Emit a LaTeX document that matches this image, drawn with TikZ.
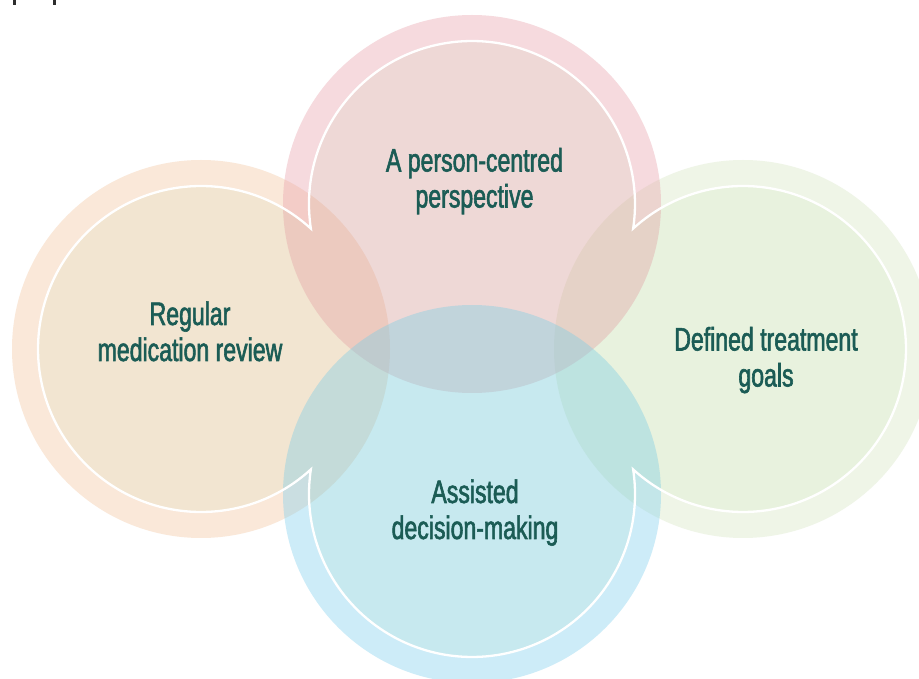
\documentclass[tikz,border=0pt]{standalone}
\usepackage{fontspec}
\setmainfont{Liberation Sans}[FakeStretch=0.71, FakeBold=1.8]
\definecolor{pinkc}{RGB}{233,163,173}
\definecolor{orangec}{RGB}{243,198,160}
\definecolor{greenc}{RGB}{215,230,195}
\definecolor{bluec}{RGB}{130,208,238}
\definecolor{tintc}{RGB}{47,164,0}
\definecolor{labelc}{RGB}{27,92,85}
\definecolor{markc}{RGB}{45,45,45}
\tikzset{
  disk/.style={fill opacity=0.4},
  tint/.style={fill=tintc, fill opacity=0.035},
  whiteline/.style={draw=white, line width=2.3pt, line join=miter, miter limit=20},
  lbl/.style={inner sep=0pt, text=labelc, anchor=base, font=\fontsize{32.5}{36}\selectfont},
}
\begin{document}
\begin{tikzpicture}[x=1pt,y=1pt]
\useasboundingbox (0,0) rectangle (919,678);
\fill[white] (0,0) rectangle (919,678);
% circle centres
\coordinate (T) at (472,474);
\coordinate (B) at (472,184);
\coordinate (L) at (201,329);
\coordinate (R) at (743,329);
% cusp point (outer intersection of the top and left inner circles)
\coordinate (TL) at (310.87,449.40);
% outer disks
\fill[disk, orangec] (L) circle[radius=189];
\fill[disk, greenc] (R) circle[radius=189];
\fill[disk, pinkc] (T) circle[radius=189];
\fill[disk, bluec] (B) circle[radius=189];
% inner union tint and white outline
\path[tint] (TL) arc[start angle=188.68, end angle=-8.68, radius=163]
  arc[start angle=132.38, end angle=-132.38, radius=163]
  arc[start angle=8.68, end angle=-188.68, radius=163]
  arc[start angle=-47.62, end angle=-312.38, radius=163] -- cycle;
\draw[whiteline] (TL) arc[start angle=188.68, end angle=-8.68, radius=163]
  arc[start angle=132.38, end angle=-132.38, radius=163]
  arc[start angle=8.68, end angle=-188.68, radius=163]
  arc[start angle=-47.62, end angle=-312.38, radius=163] -- cycle;
% labels
\node[lbl] (t1a) at (474.5,506.5) {A person-centred};
\node[lbl] (t1b) at (474.5,470.5) {perspective};
\node[lbl] (t2a) at (190,353) {Regular};
\node[lbl] (t2b) at (190,317) {medication review};
\node[lbl] (t3a) at (766,327.5) {Defined treatment};
\node[lbl] (t3b) at (766,291.5) {goals};
\node[lbl] (t4a) at (475,175) {Assisted};
\node[lbl] (t4b) at (475,139) {decision-making};
% cropped text fragments at top-left
\fill[markc] (13,673) rectangle (15.5,678);
\fill[markc] (53,673) rectangle (55.5,678);
\end{tikzpicture}
\end{document}
